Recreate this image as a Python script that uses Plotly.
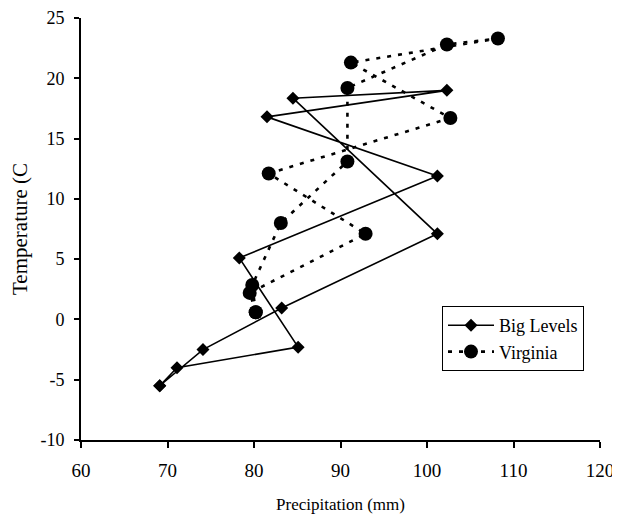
import plotly.graph_objects as go

# Big Levels (monthly, Sep not visible)
big_precip = [69.1, 71.1, 85.1, 78.3, 101.2, 81.5, 102.3, 84.5, 101.2, 83.2, 74.1]
big_temp = [-5.5, -4.0, -2.3, 5.1, 11.9, 16.8, 19.0, 18.35, 7.1, 0.95, -2.5]

# Virginia (Jan..Dec)
va_precip = [80.2, 79.5, 92.9, 81.7, 102.7, 91.2, 108.2, 102.3, 90.8, 90.8, 83.1, 79.8]
va_temp = [0.6, 2.2, 7.1, 12.1, 16.7, 21.3, 23.3, 22.8, 19.2, 13.1, 8.0, 2.85]

x_ticks = [60, 70, 80, 90, 100, 110, 120]
y_ticks = [-10, -5, 0, 5, 10, 15, 20, 25]

FONT = '"Liberation Serif", "Times New Roman", serif'

fig = go.Figure()
fig.add_trace(go.Scatter(
    x=big_precip + big_precip[:1], y=big_temp + big_temp[:1],
    mode="lines+markers", name="Big Levels",
    line=dict(color="black", width=1.6),
    marker=dict(symbol="diamond", size=10, color="black"),
))
fig.add_trace(go.Scatter(
    x=va_precip + va_precip[:1], y=va_temp + va_temp[:1],
    mode="lines+markers", name="Virginia",
    line=dict(color="black", width=2.6, dash="4px,7px"),
    marker=dict(symbol="circle", size=14, color="black"),
))

fig.update_layout(
    width=620, height=515,
    margin=dict(l=73, r=28, t=10, b=83, autoexpand=False),
    paper_bgcolor="white", plot_bgcolor="white",
    font=dict(family=FONT, size=18, color="black"),
    showlegend=True,
    legend=dict(
        x=(442 - 81) / 519, y=(440 - 306) / 422, xanchor="left", yanchor="top",
        bordercolor="black", borderwidth=1, bgcolor="white",
        font=dict(family=FONT, size=18, color="black"),
        itemwidth=46,
    ),
)
fig.update_xaxes(
    range=[60, 120], tickvals=x_ticks, ticktext=[str(v) for v in x_ticks],
    showgrid=False, zeroline=False, showline=True, linecolor="black", linewidth=2,
    ticks="outside", ticklen=6, tickwidth=1.5, tickcolor="black",
    ticklabelstandoff=6, automargin=False,
    tickfont=dict(family=FONT, size=19),
    title=dict(text="Precipitation (mm)", font=dict(family=FONT, size=17), standoff=18),
)
fig.update_yaxes(
    range=[-10, 25], tickvals=y_ticks, ticktext=[str(v) for v in y_ticks],
    showgrid=False, zeroline=False, showline=True, linecolor="black", linewidth=2,
    ticks="outside", ticklen=5, tickwidth=1.5, tickcolor="black",
    ticklabelstandoff=6, automargin=False,
    tickfont=dict(family=FONT, size=18),
    title=dict(text="Temperature (C", font=dict(family=FONT, size=21), standoff=11),
)

fig.write_html("out.html")
